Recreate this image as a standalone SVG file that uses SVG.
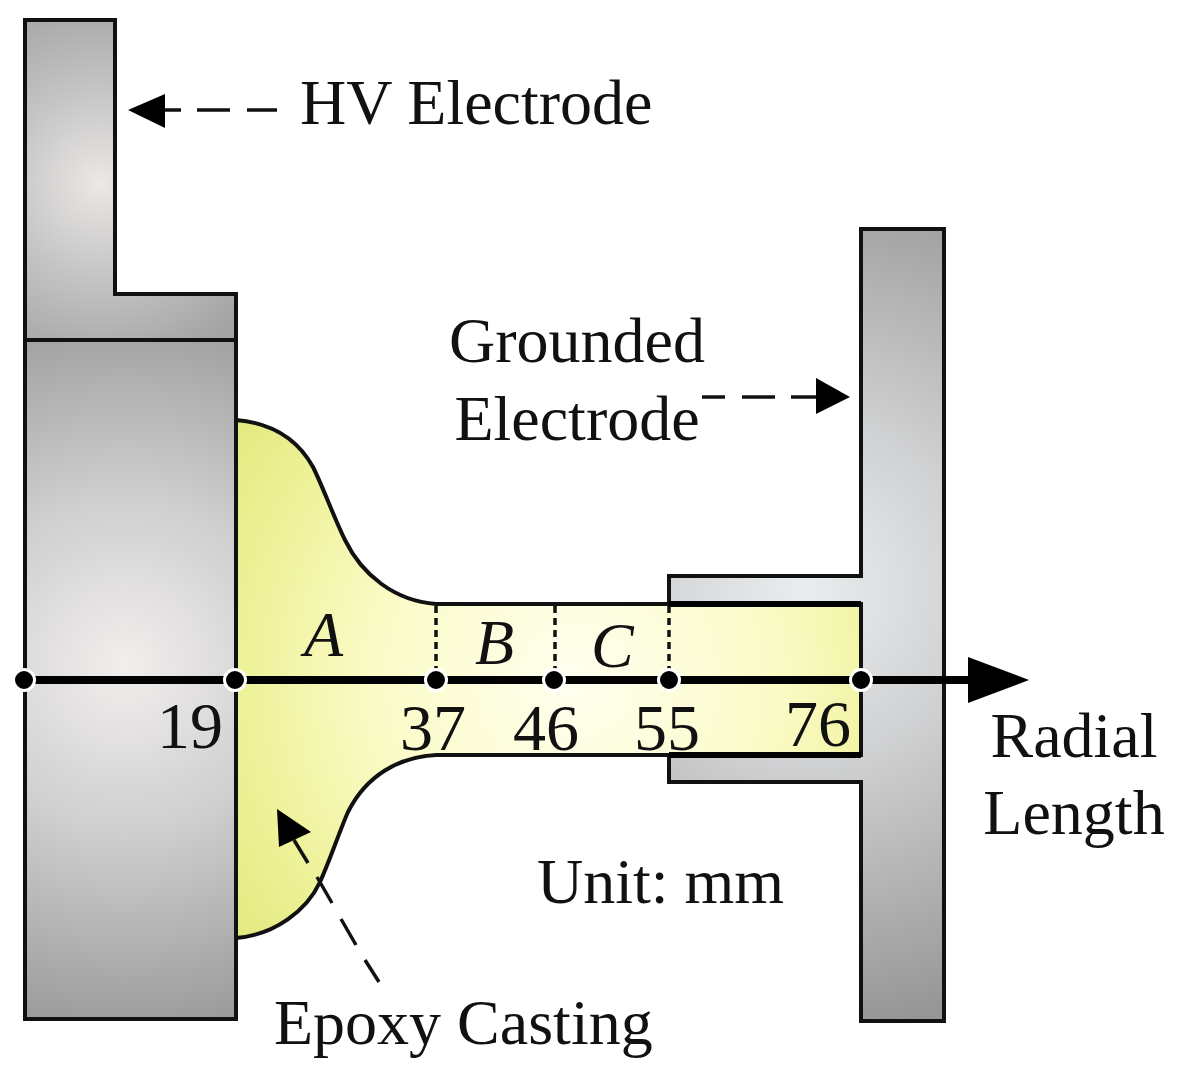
<svg xmlns="http://www.w3.org/2000/svg" width="1177" height="1083" viewBox="0 0 1177 1083">
<style>
.t{font-family:"Liberation Serif","Times New Roman",serif;font-size:64px;fill:#111}
.n{font-size:66px}
.i{font-style:italic}
.o{stroke:#111;stroke-width:4;stroke-linejoin:miter}
.d{stroke:#111;stroke-width:3.5;fill:none}
.s{stroke:#111;stroke-width:3.5;fill:none;stroke-dasharray:7 5}
.p{fill:#000;stroke:#fff;stroke-width:3}
</style>
<defs>
<radialGradient id="g1" gradientUnits="userSpaceOnUse" cx="125" cy="665" r="370"><stop offset="0" stop-color="#f2eeee"/><stop offset="0.45" stop-color="#cfcfcf"/><stop offset="1" stop-color="#9a9a9a"/></radialGradient>
<radialGradient id="g2" gradientUnits="userSpaceOnUse" cx="100" cy="183" r="190"><stop offset="0" stop-color="#ebe8e6"/><stop offset="0.5" stop-color="#c4c4c4"/><stop offset="1" stop-color="#a4a4a4"/></radialGradient>
<radialGradient id="g3" gradientUnits="userSpaceOnUse" cx="805" cy="590" r="440"><stop offset="0" stop-color="#eaedef"/><stop offset="0.4" stop-color="#cfd0d1"/><stop offset="1" stop-color="#969696"/></radialGradient>
<radialGradient id="g4" gradientUnits="userSpaceOnUse" cx="575" cy="680" r="440"><stop offset="0" stop-color="#fffff0"/><stop offset="0.45" stop-color="#fbfbc8"/><stop offset="0.74" stop-color="#eef29a"/><stop offset="1" stop-color="#e2e87c"/></radialGradient>
</defs>
<g id="hv-electrode">
<path class="o" fill="url(#g2)" d="M25 20H115V294H236V340H25Z"/>
<path class="o" fill="url(#g1)" d="M25 340H236V1019H25Z"/>
</g>
<g id="grounded-electrode">
<path class="o" fill="url(#g3)" d="M861 229H944V1021H861V782H669V755H861V604H669V576H861Z"/>
</g>
<g id="epoxy-casting">
<path class="o" fill="url(#g4)" d="M236 420C272 423 298 440 313 467C323 487 335 520 345 540C362 575 395 601 436 604H861V755H436C398 757 366 776 348 812C340 830 330 860 320 882C307 910 275 935 236 938Z"/>
<path d="M669 604H861M669 755H861" stroke="#000" stroke-width="6" fill="none"/>
</g>
<g id="connectors">
<line class="s" x1="436" y1="606" x2="436" y2="680"/>
<line class="s" x1="555" y1="606" x2="555" y2="680"/>
<line class="s" x1="669" y1="606" x2="669" y2="680"/>
<line x1="25" y1="680" x2="975" y2="680" stroke="#000" stroke-width="8"/>
<polygon points="1029,680 968,657 968,703" fill="#000"/>
<path class="d" d="M165 110H181M197 110H230M247 110H277"/>
<polygon points="128,110 165,94 165,128" fill="#000"/>
<path class="d" d="M702 397H725M742 397H775M791 397H817"/>
<polygon points="850,397 816,378 816,414" fill="#000"/>
<path class="d" d="M294 840L308 863M317 877L332 903M341 919L356 945M365 960L379 982"/>
<polygon points="277,809 311,832 279,847" fill="#000"/>
</g>
<g id="points">
<circle class="p" cx="24" cy="680" r="10.5"/>
<circle class="p" cx="235" cy="680" r="10.5"/>
<circle class="p" cx="436" cy="680" r="10.5"/>
<circle class="p" cx="554" cy="680" r="10.5"/>
<circle class="p" cx="669" cy="680" r="10.5"/>
<circle class="p" cx="861" cy="680" r="10.5"/>
</g>
<g id="labels">
<text class="t" x="300" y="124">HV Electrode</text>
<text class="t" x="577" y="362" text-anchor="middle">Grounded</text>
<text class="t" x="577" y="440" text-anchor="middle">Electrode</text>
<text class="t i" x="304" y="656">A</text>
<text class="t i" x="475" y="664">B</text>
<text class="t i" x="591" y="667">C</text>
<text class="t n" x="157" y="748">19</text>
<text class="t n" x="400" y="750">37</text>
<text class="t n" x="513" y="750">46</text>
<text class="t n" x="634" y="750">55</text>
<text class="t n" x="785" y="746">76</text>
<text class="t" x="1074" y="757" text-anchor="middle">Radial</text>
<text class="t" x="1074" y="834" text-anchor="middle">Length</text>
<text class="t" x="537" y="903">Unit: mm</text>
<text class="t" x="274" y="1044">Epoxy Casting</text>
</g>
</svg>
